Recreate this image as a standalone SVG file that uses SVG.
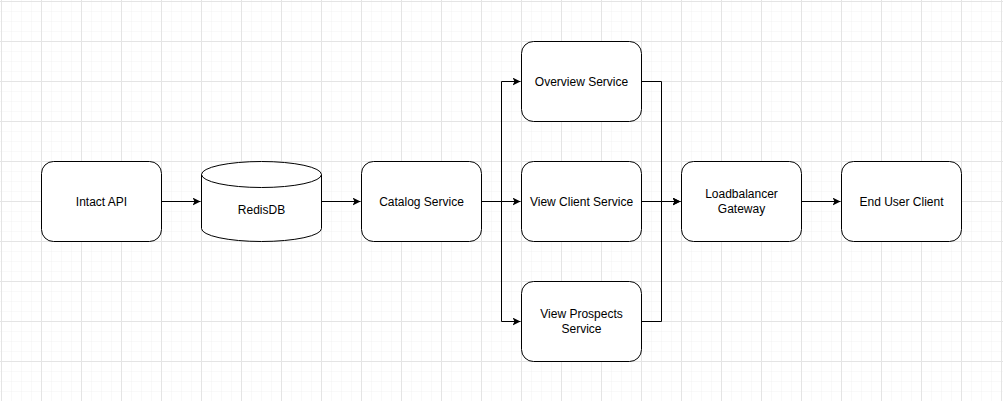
<svg xmlns="http://www.w3.org/2000/svg" width="1003" height="401" viewBox="0 0 1003 401">
<defs>
<pattern id="minor" x="1" y="1" width="10" height="10" patternUnits="userSpaceOnUse">
<path d="M10 0V10M0 10H10" fill="none" stroke="#f2f2f2" stroke-width="1"/>
</pattern>
<pattern id="major" x="1" y="1" width="40" height="40" patternUnits="userSpaceOnUse">
<rect width="40" height="40" fill="url(#minor)"/>
<path d="M0.5 0V40M0 0.5H40" fill="none" stroke="#e4e4e4" stroke-width="1"/>
</pattern>
<marker id="arr" viewBox="0 0 10 10" refX="10" refY="5" markerWidth="8" markerHeight="8" markerUnits="userSpaceOnUse" orient="auto">
<path d="M0 0L10 5L0 10L2.5 5Z" fill="#000"/>
</marker>
</defs>
<style>
.box{fill:#fff;stroke:#000;stroke-width:1}
.lbl{font-family:"Liberation Sans",Arial,sans-serif;font-size:12px;fill:#000;text-anchor:middle}
.edge{fill:none;stroke:#000;stroke-width:1}
</style>
<rect width="1003" height="401" fill="#fff"/>
<rect x="0" y="0" width="1003" height="401" fill="url(#major)"/>
<g id="connectors">
<path class="edge" d="M161.5 201.5H200.5" marker-end="url(#arr)"/>
<path class="edge" d="M321.5 201.5H360.5" marker-end="url(#arr)"/>
<path class="edge" d="M481.5 201.5H501.5V81.5H520.5" marker-end="url(#arr)"/>
<path class="edge" d="M481.5 201.5H520.5" marker-end="url(#arr)"/>
<path class="edge" d="M501.5 201.5V321.5H520.5" marker-end="url(#arr)"/>
<path class="edge" d="M641.5 81.5H661.5V201.5H680.5" marker-end="url(#arr)"/>
<path class="edge" d="M641.5 201.5H680.5" marker-end="url(#arr)"/>
<path class="edge" d="M641.5 321.5H661.5V201.5"/>
<path class="edge" d="M801.5 201.5H840.5" marker-end="url(#arr)"/>
</g>
<g id="intact-api">
<rect class="box" x="41.5" y="161.5" width="120" height="80" rx="12"/>
<text class="lbl" x="101.5" y="205.5">Intact API</text>
</g>
<g id="redisdb">
<path class="box" d="M201.5 174.5A60 13 0 0 1 321.5 174.5V228.5A60 13 0 0 1 201.5 228.5Z"/>
<path class="edge" d="M201.5 174.5A60 13 0 0 0 321.5 174.5"/>
<text class="lbl" x="261.5" y="213.5">RedisDB</text>
</g>
<g id="catalog-service">
<rect class="box" x="361.5" y="161.5" width="120" height="80" rx="12"/>
<text class="lbl" x="421.5" y="205.5">Catalog Service</text>
</g>
<g id="overview-service">
<rect class="box" x="521.5" y="41.5" width="120" height="80" rx="12"/>
<text class="lbl" x="581.5" y="85.5">Overview Service</text>
</g>
<g id="view-client-service">
<rect class="box" x="521.5" y="161.5" width="120" height="80" rx="12"/>
<text class="lbl" x="581.5" y="205.5">View Client Service</text>
</g>
<g id="view-prospects-service">
<rect class="box" x="521.5" y="281.5" width="120" height="80" rx="12"/>
<text class="lbl" x="581.5" y="317.5">View Prospects</text>
<text class="lbl" x="581.5" y="332.5">Service</text>
</g>
<g id="loadbalancer-gateway">
<rect class="box" x="681.5" y="161.5" width="120" height="80" rx="12"/>
<text class="lbl" x="741.5" y="197.5">Loadbalancer</text>
<text class="lbl" x="741.5" y="212.5">Gateway</text>
</g>
<g id="end-user-client">
<rect class="box" x="841.5" y="161.5" width="120" height="80" rx="12"/>
<text class="lbl" x="901.5" y="205.5">End User Client</text>
</g>
</svg>
